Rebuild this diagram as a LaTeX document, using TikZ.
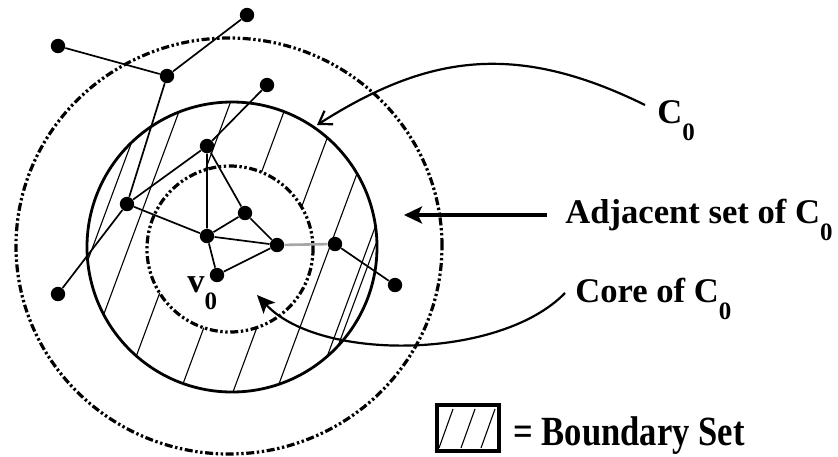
\documentclass[tikz,border=0pt]{standalone}
\usepackage{fontspec}
\setmainfont{Liberation Serif}
\usetikzlibrary{arrows.meta}

\newcommand{\subz}{\raisebox{-8.5pt}{\fontsize{12.5}{12.5}\selectfont 0}}

\begin{document}
\begin{tikzpicture}[x=0.5pt, y=-0.5pt,
    vtx/.style = {circle, fill, inner sep=0pt, minimum size=7.2pt},
    link/.style = {line width=0.85pt},
    hatchline/.style = {line width=0.55pt},
    dashring/.style = {line width=1.6pt, dash pattern=on 4pt off 1.3pt on 1.2pt off 1.3pt on 1.2pt off 1.3pt},
    callout/.style = {line width=1.1pt},
    txt/.style = {font=\fontsize{17.3}{20}\selectfont\bfseries, inner sep=0pt, anchor=base west}]
    \useasboundingbox (0,0) rectangle (838,456);

    % boundary set hatching
    \begin{scope}[even odd rule]
        \clip (232,247) circle [radius=72.5pt] (230,249) circle [radius=41.5pt];
        \foreach \p in {184,220,268,325,378,421,459,466}
            \draw[hatchline] ({\p-33},90) -- ({\p-148},400);
    \end{scope}

    % zones
    \draw[dashring] (229,246) ellipse [x radius=106.5pt, y radius=104pt];
    \draw[line width=1.4pt] (232,247) circle [radius=72.5pt];
    \draw[dashring] (230,249) circle [radius=41.5pt];

    % vertices
    \node[vtx] (A) at (247,15) {};
    \node[vtx] (B) at (58,46) {};
    \node[vtx] (C) at (167,76) {};
    \node[vtx] (D) at (267,85) {};
    \node[vtx] (E) at (207,146) {};
    \node[vtx] (F) at (127,204) {};
    \node[vtx] (G) at (245,213) {};
    \node[vtx] (H) at (207,236) {};
    \node[vtx] (I) at (277,245) {};
    \node[vtx] (J) at (335,244) {};
    \node[vtx] (v0) at (217,275) {};
    \node[vtx] (L) at (58,294) {};
    \node[vtx] (M) at (395,285) {};

    \draw[link] (B) -- (C) -- (A);
    \draw[link] (C) -- (F) -- (L);
    \draw[link] (D) -- (E) -- (F) -- (H) -- (E);
    \draw[link] (E) -- (G) -- (H) -- (I) -- (G);
    \draw[link] (H) -- (v0) -- (I);
    \draw[link, gray!70, line width=1.3pt] (I) -- (J);
    \draw[link] (J) -- (M);

    \node[txt] (vlbl) at (187,292) {v\subz};

    % labels
    \node[txt] (c0) at (657,123) {C\subz};
    \node[txt] (adj) at (565,223) {Adjacent set of C\subz};
    \node[txt] (core) at (575,302) {Core of C\subz};

    \coordinate (c0tail) at (645,105);
    \coordinate (c0tip) at (317,125);
    \coordinate (adjtail) at (547,215);
    \coordinate (adjtip) at (404,215);
    \coordinate (coretail) at (565,293);
    \coordinate (coretip) at (257,295);

    \draw[callout, -{Straight Barb[length=6pt, width=8pt]}] (c0tail) .. controls (515,41) and (427,55) .. (c0tip);
    \draw[line width=1.7pt, -{Stealth[length=9pt, width=8.5pt, inset=2pt]}] (adjtail) -- (adjtip);
    \draw[callout, -{Stealth[length=9pt, width=8pt, inset=2pt]}] (coretail) .. controls (500,360) and (320,362) .. (coretip);

    % legend
    \node[draw, line width=1.8pt, minimum width=31pt, minimum height=23pt, inner sep=0pt] (lgd) at (468,428) {};
    \foreach \x in {453,475,495}
        \draw[hatchline] (\x,409) -- ({\x-14},448);
    \node[txt] (bset) at (513,445) {\scalebox{1}[1.2]{= Boundary Set}};
\end{tikzpicture}
\end{document}
